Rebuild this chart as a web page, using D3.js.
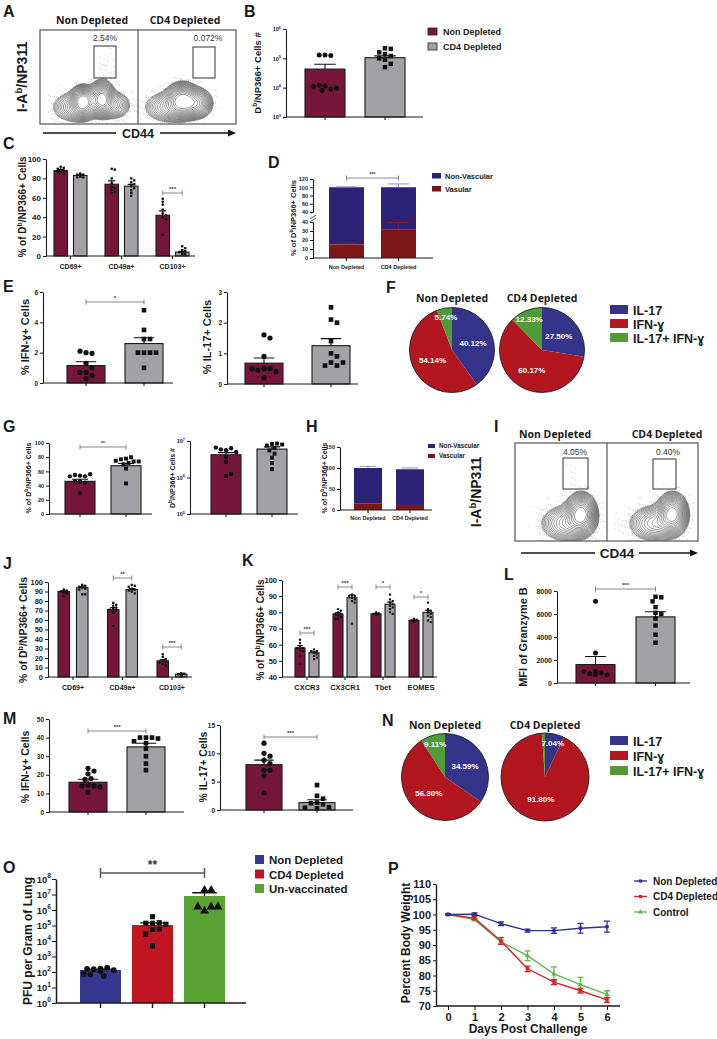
<!DOCTYPE html>
<html>
<head>
<meta charset="utf-8">
<script src="https://cdn.jsdelivr.net/npm/d3@7"></script>
<style>body{margin:0;background:#fff}</style>
</head>
<body>
<div id="fig"></div>
<script>
// ---------------- data ----------------
const conditions = ["Non Depleted", "CD4 Depleted"];

// B
const bTicks = [1e3, 1e4, 1e5, 1e6];
const bMean = [4.3e4, 1.05e5];
const bSem = [2.0e4, 1.6e4];
const bPoints = [[1.3e5, 1.25e5, 1.3e5, 1.15e4, 9e3, 8e3, 1.2e4, 9.5e3, 1.1e4],
                 [2.2e5, 2.1e5, 1.6e5, 1.4e5, 1.2e5, 1.0e5, 9e4, 6.5e4, 5e4]];

// C
const cMarkers = ["CD69+", "CD49a+", "CD103+"];
const cMean = [[88, 74, 42], [83, 72, 4]];
const cSem = [[1.2, 3.5, 4.5], [0.8, 1.8, 0.8]];
const cPoints = [
  [[92, 91, 90, 89, 88, 88, 87, 86, 85], [90, 89, 80, 75, 71, 70, 68, 66, 65], [59, 56, 53, 48, 44, 42, 40, 38, 22]],
  [[85, 84, 84, 83, 83, 82, 82, 81, 81], [80, 78, 76, 74, 72, 70, 68, 65, 62], [10, 8, 6, 5, 4, 4, 3, 3, 2, 2]]
];

// D
const dVascular = [15, 32], dVascularSem = [1.5, 7.5];
const dTotal = [100, 100], dTotalSem = [1, 8];
const dTicksLow = [0, 10, 20, 30, 40], dTicksHigh = [40, 60, 80, 100, 120];
const vascKeys = ["Non-Vascular", "Vasular"];

// E
const eIfngMean = [1.15, 2.6], eIfngSem = [0.25, 0.38];
const eIfngPoints = [[2.0, 1.95, 2.1, 1.3, 1.0, 0.7, 0.7, 0.5, 0.3], [4.8, 3.5, 2.9, 2.9, 2.0, 2.0, 2.0, 2.0, 1.0]];
const eIl17Mean = [0.68, 1.25], eIl17Sem = [0.17, 0.23];
const eIl17Points = [[1.6, 1.5, 0.9, 0.5, 0.5, 0.45, 0.4, 0.5, 0.5, 0.2], [2.5, 2.1, 2.0, 1.4, 1.0, 0.9, 0.7, 0.6, 0.6, 0.7]];

// F and N
const cytokines = ["IL-17", "IFN-\u0263", "IL-17+ IFN-\u0263"];
const fNon = [40.12, 54.14, 5.74], fCd4 = [27.50, 60.17, 12.33];
const nNon = [34.59, 56.30, 9.11], nCd4 = [7.04, 91.80, 1.16];

// G
const gPctMean = [46, 68], gPctSem = [3, 3.2];
const gPctPoints = [[54, 53, 55, 56, 53, 46, 44, 46, 30], [78, 80, 77, 72, 74, 75, 70, 64, 43, 74]];
const gNumTicks = [1e5, 1e6, 1e7];
const gNumMean = [4.2e6, 6.0e6], gNumSem = [0.6e6, 0.9e6];
const gNumPoints = [[5.6e6, 6.3e6, 5.9e6, 5.0e6, 3.7e6, 2.7e6, 1.1e6, 1.25e6, 6.6e6],
                    [8.3e6, 8.5e6, 7.5e6, 6.5e6, 5.5e6, 4.5e6, 3.5e6, 2.5e6, 1.7e6, 8.0e6]];

// H
const hVascular = [16, 12], hTotal = [100, 97], hTotalSem = [4, 3];
const hKeys = ["Non-Vascular", "Vascular"];

// J
const jMarkers = ["CD69+", "CD49a+", "CD103+"];
const jMean = [[90, 71, 17], [94, 92, 3]];
const jSem = [[0.8, 2.2, 1.3], [1.0, 1.0, 0.4]];
const jPoints = [
  [[92, 91, 90, 90, 89, 89, 88, 85], [78, 76, 75, 73, 72, 71, 70, 68, 54], [24, 21, 19, 17, 16, 15, 14, 12]],
  [[97, 96, 95, 95, 94, 93, 92, 87, 87], [97, 96, 95, 93, 92, 91, 90, 88], [4, 3.5, 3, 3, 2.5, 2, 1.5, 1]]
];

// K
const kMarkers = ["CXCR3", "CX3CR1", "Tbet", "EOMES"];
const kMean = [[58, 79, 79, 75], [55, 89, 85, 80]];
const kSem = [[1.5, 0.8, 0.3, 0.2], [0.6, 1.8, 1.3, 1.2]];
const kPoints = [
  [[63, 61, 59, 58, 58, 57, 56, 53, 48], [82, 81, 80, 79, 79, 78, 77, 76, 76], [80, 79.5, 79, 79, 78.8, 78.5], [76, 75.5, 75, 75, 74.8, 74.5]],
  [[57, 56, 56, 55, 55, 54, 53, 52, 51], [91, 90, 90, 89, 89, 88, 87, 86, 73], [91, 88, 87, 86, 85, 84, 83, 82, 80, 79], [86, 82, 81, 80, 79, 78, 77, 75, 74]]
];

// L
const lMean = [1600, 5750], lSem = [700, 450];
const lPoints = [[7100, 2600, 1050, 900, 800, 700, 1000, 750, 900], [7500, 7450, 7100, 6600, 6100, 6000, 5600, 5000, 4200, 3500]];

// M
const mIfngMean = [16, 35], mIfngSem = [1.6, 2];
const mIfngPoints = [[23.5, 22, 20.5, 18, 17.5, 14.5, 14, 14, 13.5, 10.5], [40, 40, 40, 39.5, 38, 37, 34, 30, 26, 22.5]];
const mIl17Mean = [8, 1.3], mIl17Sem = [0.8, 0.5];
const mIl17Points = [[11.8, 10, 9.5, 8.8, 8.2, 7, 7, 6, 3], [4.4, 2.5, 2.0, 1.3, 1.2, 1.0, 0.5, 0.4, 0.3]];

// O
const oGroups = ["Non Depleted", "CD4 Depleted", "Un-vaccinated"];
const oTicks = [1, 10, 100, 1e3, 1e4, 1e5, 1e6, 1e7, 1e8];
const oMean = [135, 1.07e5, 8e6];
const oSem = [15, 4e4, 5e6];
const oPoints = [[120, 55, 190, 150, 130, 70, 160, 75, 165],
                 [3.7e5, 1.4e5, 1.5e5, 5.6e4, 1.4e5, 6e4, 2.8e4, 4.8e3, 1.2e5],
                 [1.9e7, 1.9e7, 8.7e5, 1.6e6, 1.6e6, 1.6e6]];

// P
const days = [0, 1, 2, 3, 4, 5, 6];
const pSeries = ["Non Depleted", "CD4 Depleted", "Control"];
const pNon = [100, 100.1, 97, 94.7, 94.7, 95.5, 96], pNonSem = [0.2, 0.4, 0.6, 0.5, 0.9, 1.6, 1.8];
const pCd4 = [100, 98.8, 91.3, 82.2, 77.8, 75, 72], pCd4Sem = [0.2, 0.5, 1.1, 0.9, 0.8, 0.8, 0.8];
const pCtrl = [100, 98.3, 91, 86.5, 80.5, 77, 73.8], pCtrlSem = [0.2, 0.4, 0.6, 1.6, 2.3, 2.4, 1.2];

// flow density blobs: [CD44, NP311, spreadX, spreadY, weight]
const flowANon = [[44, 24, 6, 8, 1.0], [63, 27, 6, 9, 1.0], [36, 18, 13, 9, 0.3], [76, 20, 9, 8, 0.3], [70, 60, 6, 11, 0.03]];
const flowACd4 = [[45, 25, 8, 9, 1.0], [60, 22, 8, 8, 0.6], [30, 18, 13, 9, 0.3]];
const flowINon = [[72, 28, 8, 10, 1.0], [56, 18, 15, 10, 0.35], [62, 68, 5, 7, 0.035]];
const flowICd4 = [[72, 28, 8, 10, 1.0], [52, 18, 15, 10, 0.35]];

// ---------------- helpers ----------------
const FONT = "'Liberation Sans', Arial, sans-serif";
const FLOWFONT = "'Open Sans', 'Liberation Sans', sans-serif";
const MAROON = "#77163b", GREY = "#a2a1a6", NAVY = "#2c2378", DRED = "#7c1718";
const PIE = ["#35348b", "#b2161f", "#4f9b37"];
const OCOL = ["#363791", "#bf1621", "#5aa234"];
const PCOL = ["#2f3192", "#d5232a", "#5db648"];
const INK = "#1a1a1a";

const svg = d3.select("#fig").append("svg").attr("width", 717).attr("height", 1039)
  .attr("font-family", FONT);

function write(x, y, parts, o = {}) {
  const size = o.size || 10;
  const t = svg.append("text").attr("x", x).attr("y", y)
    .attr("font-size", size).attr("font-weight", o.weight || "bold")
    .attr("text-anchor", o.anchor || "middle").attr("fill", o.fill || INK)
    .attr("font-family", o.family || FONT);
  if (o.rotate) t.attr("transform", `rotate(-90,${x},${y})`);
  let shift = 0;
  [].concat(parts).forEach(p => {
    if (typeof p === "string") {
      const s = t.append("tspan").text(p);
      if (shift) { s.attr("dy", shift); shift = 0; }
    } else {
      t.append("tspan").attr("dy", -size * 0.38).attr("font-size", size * 0.68).text(p.sup);
      shift = size * 0.38;
    }
  });
  return t;
}
const dbLabel = ["% of D", { sup: "b" }, "/NP366+ Cells"];

function band(domain, start, w, gap) {
  const n = domain.length;
  return d3.scaleBand().domain(domain).range([start, start + n * w + (n - 1) * gap])
    .paddingInner(gap / (w + gap)).paddingOuter(0);
}

function axisY(scale, x, ticks, size, fmt) {
  const g = svg.append("g").attr("transform", `translate(${x},0)`)
    .call(d3.axisLeft(scale).tickValues(ticks).tickSize(3).tickSizeOuter(0).tickPadding(2)
      .tickFormat(fmt || d3.format("d")));
  g.attr("font-family", FONT).attr("font-size", size).attr("font-weight", "bold");
  g.selectAll("path,line").attr("stroke", INK);
  g.select(".domain").attr("stroke-width", 1.1);
  g.selectAll("text").attr("fill", INK);
  return g;
}
function supTicks(g, size) {
  g.selectAll(".tick text").each(function (d) {
    const t = d3.select(this).text("10");
    t.append("tspan").attr("dy", -size * 0.45).attr("font-size", size * 0.7).text(Math.round(Math.log10(d)));
  });
}
function axisX(scale, base, x0, x1, o = {}) {
  svg.append("line").attr("x1", x0).attr("x2", x1).attr("y1", base).attr("y2", base)
    .attr("stroke", INK).attr("stroke-width", o.sw || 1.1);
  const g = svg.append("g").attr("transform", `translate(0,${base})`)
    .call(d3.axisBottom(scale).tickSize(o.tick || 3).tickSizeOuter(0).tickPadding(o.pad || 3)
      .tickFormat(o.labels ? d => d : () => ""));
  g.select(".domain").remove();
  g.attr("font-family", FONT).attr("font-size", o.size || 7).attr("font-weight", o.weight || "bold");
  g.selectAll("line").attr("stroke", INK).attr("stroke-width", o.sw || 1.1);
  g.selectAll("text").attr("fill", INK);
  return g;
}

function swarm(ys, r, maxOff) {
  const placed = [];
  return ys.map(y => {
    let dx = 0;
    for (let k = 0; k < 40; k++) {
      const c = (k % 2 ? 1 : -1) * Math.ceil(k / 2) * r * 1.1;
      if (Math.abs(c) > maxOff) continue;
      if (placed.every(p => Math.hypot(p.x - c, p.y - y) >= 2 * r)) { dx = c; break; }
    }
    placed.push({ x: dx, y });
    return dx;
  });
}

function pairItems(xb, means, sems, pts, fills, shapes, keys) {
  return (keys || conditions).map((c, i) => ({
    x: xb(c), w: xb.bandwidth(), mean: means[i], sem: sems[i], pts: pts[i], fill: fills[i], shape: shapes[i]
  }));
}
function groupItems(cats, start, barW, gap, groupGap, means, sems, pts) {
  const outer = band(cats, start, 2 * barW + gap, groupGap);
  const inner = band(conditions, 0, barW, gap);
  const items = [];
  cats.forEach((c, j) => conditions.forEach((s, i) => items.push({
    x: outer(c) + inner(s), w: barW, mean: means[i][j], sem: sems[i][j], pts: pts[i][j],
    fill: i ? GREY : MAROON, shape: i ? d3.symbolSquare : d3.symbolCircle
  })));
  return { outer, items };
}

function drawBars(y, base, items, o = {}) {
  const r = o.r || 2, sw = o.sw || 1.1;
  items.forEach(it => {
    const top = y(it.mean);
    svg.append("rect").attr("x", it.x).attr("y", top).attr("width", it.w).attr("height", base - top)
      .attr("fill", it.fill).attr("stroke", o.outline === false ? "none" : INK).attr("stroke-width", sw);
    const ys = it.pts.map(v => y(v));
    const offs = swarm(ys, r * 1.05, it.w / 2 - r);
    const area = it.shape === d3.symbolCircle ? Math.PI * r * r : it.shape === d3.symbolSquare ? 3.2 * r * r : 4.2 * r * r;
    const sym = d3.symbol().type(it.shape).size(area);
    ys.forEach((yy, k) => svg.append("path").attr("d", sym())
      .attr("transform", `translate(${it.x + it.w / 2 + offs[k]},${yy})`).attr("fill", "#111"));
    const cx = it.x + it.w / 2, et = y(it.mean + it.sem), cap = it.w * (o.cap || 0.27);
    svg.append("path").attr("d", `M${cx},${top}V${et}M${cx - cap},${et}H${cx + cap}`)
      .attr("stroke", "#111").attr("stroke-width", sw).attr("fill", "none");
    it.cx = cx;
  });
  return items;
}

function bracket(x1, x2, yy, label, o = {}) {
  const t = o.tick || 2.5;
  svg.append("path").attr("d", `M${x1},${yy - t}V${yy + t}M${x1},${yy}H${x2}M${x2},${yy - t}V${yy + t}`)
    .attr("stroke", o.color || "#6a6a6a").attr("stroke-width", o.sw || 0.8).attr("fill", "none");
  write((x1 + x2) / 2, yy - (o.gap || 2), label, { size: o.size || 6, weight: "bold", fill: "#333" });
}

function panelLetter(x, y, s) { write(x, y, s, { size: 16, anchor: "start" }); }

function flowPlot(x0, y0, w, h, clusters) {
  const dens = (u, v) => clusters.reduce((s, c) =>
    s + c[4] * Math.exp(-((u - c[0]) ** 2 / (2 * c[2] ** 2) + (v - c[1]) ** 2 / (2 * c[3] ** 2))), 0);
  const nx = 90, ny = Math.round(90 * h / w);
  const grid = new Float64Array(nx * ny);
  for (let j = 0; j < ny; j++) for (let i = 0; i < nx; i++)
    grid[j * nx + i] = dens((i + 0.5) / nx * 100, 100 - (j + 0.5) / ny * 100);
  const th = d3.range(18).map(k => 0.07 * Math.pow(1.16, k));
  const contours = d3.contours().size([nx, ny]).thresholds(th)(grid);
  const proj = d3.geoTransform({ point(px, py) { this.stream.point(x0 + px / nx * w, y0 + py / ny * h); } });
  const path = d3.geoPath(proj);
  const id = "clip" + Math.round(x0) + "_" + Math.round(y0);
  svg.append("clipPath").attr("id", id).append("rect").attr("x", x0).attr("y", y0).attr("width", w).attr("height", h);
  const g = svg.append("g").attr("clip-path", `url(#${id})`);
  // light speckle of single events (deterministic low-discrepancy placement)
  for (let k = 1; k < 3000; k++) {
    const u = (k * 0.7548776662) % 1 * 100, v = (k * 0.5698402910) % 1 * 100;
    const d = dens(u, v);
    if (d > 0.003 && d < 0.09 && (k * 0.6180339887) % 1 < Math.min(1, d * 9)) {
      g.append("circle").attr("cx", x0 + u / 100 * w).attr("cy", y0 + (100 - v) / 100 * h)
        .attr("r", 0.42).attr("fill", "#8c8c8c");
    }
  }
  g.selectAll("path").data(contours).join("path")
    .attr("d", path).attr("fill", "none")
    .attr("stroke", "#444").attr("stroke-width", 0.55);
}
function gate(x, y, w, h, pct, tx, ty) {
  svg.append("rect").attr("x", x).attr("y", y).attr("width", w).attr("height", h)
    .attr("fill", "none").attr("stroke", "#333").attr("stroke-width", 1);
  write(tx, ty, pct, { size: 8.5, weight: "normal", fill: "#333" });
}
function cd44Arrow(x0, x1, y, tx, size) {
  svg.append("line").attr("x1", x0).attr("x2", tx - 22).attr("y1", y).attr("y2", y).attr("stroke", "#111").attr("stroke-width", 1.6);
  svg.append("line").attr("x1", tx + 22).attr("x2", x1 - 5).attr("y1", y).attr("y2", y).attr("stroke", "#111").attr("stroke-width", 1.6);
  svg.append("path").attr("d", `M${x1},${y}L${x1 - 8},${y - 3.5}L${x1 - 8},${y + 3.5}Z`).attr("fill", "#111");
  write(tx, y + size * 0.36, "CD44", { size });
}
function flowFrame(x, y, w, h, mid) {
  svg.append("rect").attr("x", x).attr("y", y).attr("width", w).attr("height", h)
    .attr("fill", "none").attr("stroke", "#555").attr("stroke-width", 1.2);
  svg.append("line").attr("x1", mid).attr("x2", mid).attr("y1", y).attr("y2", y + h).attr("stroke", "#555").attr("stroke-width", 1.2);
}

function pieChart(cx, cy, r, values, title, titleY) {
  const arcs = d3.pie().sort(null).value(d => d)(values);
  const g = svg.append("g").attr("transform", `translate(${cx},${cy})`);
  g.selectAll("path").data(arcs).join("path").attr("d", d3.arc().innerRadius(0).outerRadius(r))
    .attr("fill", (d, i) => PIE[i]);
  g.append("circle").attr("r", r).attr("fill", "none").attr("stroke", "#222").attr("stroke-width", 0.9);
  arcs.forEach(d => {
    if (d.data < 2) return;
    const f = d.data < 15 ? 0.8 : 0.52;
    const [lx, ly] = d3.arc().innerRadius(r * f).outerRadius(r * f).centroid(d);
    g.append("text").attr("x", lx).attr("y", ly + 3).attr("text-anchor", "middle")
      .attr("font-size", 8).attr("font-weight", "bold").attr("fill", "#fff").attr("font-family", FONT)
      .text(d3.format(".2f")(d.data) + "%");
  });
  write(cx, titleY, title, { size: 10.5, family: FLOWFONT });
}
function pieLegend(x, y0, step) {
  cytokines.forEach((c, i) => {
    svg.append("rect").attr("x", x).attr("y", y0 + i * step).attr("width", 18).attr("height", 9).attr("fill", PIE[i]);
    write(x + 23, y0 + i * step + 9.5, c, { size: 12.5, anchor: "start" });
  });
}

function stacked(yf, base, xb, vasc, vascSem, total, totalSem, cols, errCols) {
  conditions.forEach((c, i) => {
    const x = xb(c), w = xb.bandwidth(), cx = x + w / 2;
    svg.append("rect").attr("x", x).attr("y", yf(total[i])).attr("width", w).attr("height", yf(vasc[i]) - yf(total[i])).attr("fill", cols[0]);
    svg.append("rect").attr("x", x).attr("y", yf(vasc[i])).attr("width", w).attr("height", base - yf(vasc[i])).attr("fill", cols[1]);
    const cap = w * 0.3;
    const e1 = yf(total[i] + totalSem[i]);
    svg.append("path").attr("d", `M${cx},${yf(total[i])}V${e1}M${cx - cap},${e1}H${cx + cap}`).attr("stroke", errCols[0]).attr("stroke-width", 1).attr("fill", "none");
    if (vascSem) {
      const e2 = yf(vasc[i] + vascSem[i]);
      svg.append("path").attr("d", `M${cx},${yf(vasc[i])}V${e2}M${cx - cap},${e2}H${cx + cap}`).attr("stroke", errCols[1]).attr("stroke-width", 1).attr("fill", "none");
    }
  });
}
function vascLegend(x, y0, step, keys, size, box) {
  keys.forEach((k, i) => {
    svg.append("rect").attr("x", x).attr("y", y0 + i * step).attr("width", box[0]).attr("height", box[1]).attr("fill", i ? DRED : NAVY);
    write(x + box[0] + 4, y0 + i * step + box[1], k, { size, anchor: "start" });
  });
}

// ---------------- A ----------------
panelLetter(3, 17, "A");
flowPlot(40, 30, 98, 94, flowANon);
flowPlot(138, 30, 98, 94, flowACd4);
flowFrame(40, 30, 196, 94, 138);
write(92, 24, "Non Depleted", { size: 10.5, family: FLOWFONT });
write(185, 24, "CD4 Depleted", { size: 10.5, family: FLOWFONT });
gate(94, 46, 22, 32, "2.54%", 105, 41);
gate(193, 47, 22, 31, "0.072%", 208, 41);
write(27, 77, ["I-A", { sup: "b" }, "/NP311"], { size: 14, rotate: true });
cd44Arrow(43, 236, 133, 138, 12.5);

// ---------------- B ----------------
panelLetter(244, 17, "B");
const yB = d3.scaleLog().domain([1e3, 1e6]).range([117, 29]);
supTicks(axisY(yB, 286, bTicks, 5.5), 5.5);
const xB = band(conditions, 305, 40, 20);
drawBars(yB, 117, pairItems(xB, bMean, bSem, bPoints, [MAROON, GREY], [d3.symbolCircle, d3.symbolSquare]), { r: 2.5 });
axisX(xB, 117, 286, 423);
write(261, 73, ["D", { sup: "b" }, "/NP366+ Cells #"], { size: 9.5, rotate: true });
conditions.forEach((c, i) => {
  svg.append("rect").attr("x", 428).attr("y", 28 + i * 15).attr("width", 9).attr("height", 7)
    .attr("fill", i ? GREY : MAROON).attr("stroke", "#222").attr("stroke-width", 0.8);
  write(443, 35 + i * 15, c, { size: 9, anchor: "start" });
});

// ---------------- C ----------------
panelLetter(3, 149, "C");
const yC = d3.scaleLinear().domain([0, 100]).range([256, 159]);
axisY(yC, 46, [0, 20, 40, 60, 80, 100], 8);
const cSet = groupItems(cMarkers, 54, 13.5, 6, 18, cMean, cSem, cPoints);
drawBars(yC, 256, cSet.items, { r: 1.3 });
axisX(cSet.outer, 256, 46, 195, { labels: true, size: 7, pad: 5 });
bracket(cSet.items[4].cx, cSet.items[5].cx, 193, "***");
write(26, 207, dbLabel, { size: 10, rotate: true });

// ---------------- D ----------------
panelLetter(268, 168, "D");
const yDlow = d3.scaleLinear().domain([0, 40]).range([258, 222]);
const yDhigh = d3.scaleLinear().domain([40, 120]).range([212, 179]);
const yD = v => v <= 40 ? yDlow(v) : yDhigh(v);
axisY(yDlow, 313, dTicksLow, 5.5);
axisY(yDhigh, 313, dTicksHigh, 5.5);
svg.append("path").attr("d", "M310,219L316,215M310,222L316,218").attr("stroke", INK).attr("stroke-width", 0.8);
const xD = band(conditions, 329, 35, 17);
stacked(yD, 258, xD, dVascular, dVascularSem, dTotal, dTotalSem, [NAVY, DRED], ["#8e8ec6", "#8a1c1c"]);
axisX(xD, 258, 313, 433, { labels: true, size: 5.5, pad: 4 });
bracket(xD("Non Depleted") + 17.5, xD("CD4 Depleted") + 17.5, 178, "***", { size: 5 });
write(296, 218, dbLabel, { size: 7.5, rotate: true });
vascLegend(432, 173, 13, vascKeys, 7.5, [9, 5.5]);

// ---------------- E ----------------
panelLetter(3, 292, "E");
const yE1 = d3.scaleLinear().domain([0, 6]).range([383, 292]);
axisY(yE1, 43, [0, 2, 4, 6], 6.5);
const xE1 = band(conditions, 67, 38, 20);
const e1 = drawBars(yE1, 383, pairItems(xE1, eIfngMean, eIfngSem, eIfngPoints, [MAROON, GREY], [d3.symbolCircle, d3.symbolSquare]), { r: 2.6 });
axisX(xE1, 383, 43, 173);
bracket(e1[0].cx, e1[1].cx, 302, "*");
write(29, 337, "% IFN-\u0263+ Cells", { size: 11, rotate: true });

const yE2 = d3.scaleLinear().domain([0, 3]).range([384, 292]);
axisY(yE2, 227, [0, 1, 2, 3], 6.5);
const xE2 = band(conditions, 245, 38, 29);
drawBars(yE2, 384, pairItems(xE2, eIl17Mean, eIl17Sem, eIl17Points, [MAROON, GREY], [d3.symbolCircle, d3.symbolSquare]), { r: 2.6 });
axisX(xE2, 384, 227, 358);
write(211, 337, "% IL-17+ Cells", { size: 11, rotate: true });

// ---------------- F ----------------
panelLetter(386, 293, "F");
pieChart(452, 350, 42.5, fNon, "Non Depleted", 302);
pieChart(542, 350, 42.5, fCd4, "CD4 Depleted", 302);
pieLegend(610, 305, 14);

// ---------------- G ----------------
panelLetter(3, 432, "G");
const yG1 = d3.scaleLinear().domain([0, 100]).range([514, 443]);
axisY(yG1, 49, [0, 20, 40, 60, 80, 100], 5.5);
const xG1 = band(conditions, 65, 30, 16);
const g1 = drawBars(yG1, 514, pairItems(xG1, gPctMean, gPctSem, gPctPoints, [MAROON, GREY], [d3.symbolCircle, d3.symbolSquare]), { r: 2.2 });
axisX(xG1, 514, 49, 152);
bracket(g1[0].cx, g1[1].cx, 447, "**", { size: 5 });
write(31, 478, dbLabel, { size: 7, rotate: true });

const yG2 = d3.scaleLog().domain([1e5, 1e7]).range([514, 441]);
supTicks(axisY(yG2, 190, gNumTicks, 5.5), 5.5);
const xG2 = band(conditions, 211, 30, 16);
drawBars(yG2, 514, pairItems(xG2, gNumMean, gNumSem, gNumPoints, [MAROON, GREY], [d3.symbolCircle, d3.symbolSquare]), { r: 2.2 });
axisX(xG2, 514, 190, 298);
write(175, 478, ["D", { sup: "b" }, "/NP366+ Cells #"], { size: 7, rotate: true });

// ---------------- H ----------------
panelLetter(306, 432, "H");
const yH = d3.scaleLinear().domain([0, 150]).range([510, 447]);
axisY(yH, 340, [0, 50, 100, 150], 5.5);
const xH = band(conditions, 354, 28, 14);
stacked(yH, 510, xH, hVascular, null, hTotal, hTotalSem, [NAVY, DRED], ["#8e8ec6", "#8a1c1c"]);
axisX(xH, 510, 340, 432, { labels: true, size: 5.5, pad: 3 });
write(327, 478, dbLabel, { size: 7, rotate: true });
vascLegend(428, 444, 10, hKeys, 6.3, [7, 4]);

// ---------------- I ----------------
panelLetter(494, 432, "I");
flowPlot(515, 443, 92, 98, flowINon);
flowPlot(607, 443, 91, 98, flowICd4);
flowFrame(515, 443, 183, 98, 607);
write(555, 438, "Non Depleted", { size: 10.5, family: FLOWFONT });
write(667, 438, "CD4 Depleted", { size: 10.5, family: FLOWFONT });
gate(563, 458, 25, 31, "4.05%", 575, 455);
gate(653, 459, 23, 30, "0.40%", 668, 455);
write(481, 492, ["I-A", { sup: "b" }, "/NP311"], { size: 14, rotate: true });
cd44Arrow(521, 698, 553, 617, 13.5);

// ---------------- J ----------------
panelLetter(3, 569, "J");
const yJ = d3.scaleLinear().domain([0, 100]).range([677, 582]);
axisY(yJ, 48, d3.range(0, 101, 10), 7.5);
const jSet = groupItems(jMarkers, 58, 11.5, 7, 19.5, jMean, jSem, jPoints);
drawBars(yJ, 677, jSet.items, { r: 1.3 });
axisX(jSet.outer, 677, 48, 192, { labels: true, size: 7, pad: 5 });
bracket(jSet.items[2].cx, jSet.items[3].cx, 578, "**");
bracket(jSet.items[4].cx, jSet.items[5].cx, 647, "***");
write(27, 630, dbLabel, { size: 10.5, rotate: true });

// ---------------- K ----------------
panelLetter(242, 566, "K");
const yK = d3.scaleLinear().domain([40, 100]).range([677, 580]);
axisY(yK, 282, d3.range(40, 101, 10), 7.5);
const kSet = groupItems(kMarkers, 295, 10, 4, 14, kMean, kSem, kPoints);
drawBars(yK, 677, kSet.items, { r: 1.2 });
axisX(kSet.outer, 677, 282, 437, { labels: true, size: 7.5, pad: 5 });
bracket(kSet.items[0].cx, kSet.items[1].cx, 633, "***");
bracket(kSet.items[2].cx, kSet.items[3].cx, 587, "***");
bracket(kSet.items[4].cx, kSet.items[5].cx, 587, "*");
bracket(kSet.items[6].cx, kSet.items[7].cx, 597, "*");
write(264, 630, dbLabel, { size: 10, rotate: true });

// ---------------- L ----------------
panelLetter(504, 580, "L");
const yL = d3.scaleLinear().domain([0, 8000]).range([683, 591]);
axisY(yL, 557, d3.range(0, 8001, 2000), 7);
const xL = band(conditions, 576, 39, 21);
const lI = drawBars(yL, 683, pairItems(xL, lMean, lSem, lPoints, [MAROON, GREY], [d3.symbolCircle, d3.symbolSquare]), { r: 2.5 });
axisX(xL, 683, 557, 690);
bracket(lI[0].cx, lI[1].cx, 589, "***");
write(527, 637, "MFI of Granzyme B", { size: 11, rotate: true });

// ---------------- M ----------------
panelLetter(3, 724, "M");
const yM1 = d3.scaleLinear().domain([0, 50]).range([812, 719]);
axisY(yM1, 49, d3.range(0, 51, 10), 6.5);
const xM1 = band(conditions, 69, 38, 20);
const m1 = drawBars(yM1, 812, pairItems(xM1, mIfngMean, mIfngSem, mIfngPoints, [MAROON, GREY], [d3.symbolCircle, d3.symbolSquare]), { r: 2.6 });
axisX(xM1, 812, 49, 184);
bracket(m1[0].cx, m1[1].cx, 731, "***");
write(29, 767, "% IFN-\u0263+ Cells", { size: 10.5, rotate: true });

const yM2 = d3.scaleLinear().domain([0, 15]).range([810, 725]);
axisY(yM2, 220, [0, 5, 10, 15], 6.5);
const xM2 = band(conditions, 246, 36, 17);
const m2 = drawBars(yM2, 810, pairItems(xM2, mIl17Mean, mIl17Sem, mIl17Points, [MAROON, GREY], [d3.symbolCircle, d3.symbolSquare]), { r: 2.6 });
axisX(xM2, 810, 220, 353);
bracket(m2[0].cx, m2[1].cx, 737, "***");
write(207, 767, "% IL-17+ Cells", { size: 10.5, rotate: true });

// ---------------- N ----------------
panelLetter(382, 726, "N");
pieChart(445, 777, 43.5, nNon, "Non Depleted", 729);
pieChart(545, 777, 44, nCd4, "CD4 Depleted", 729);
pieLegend(610, 736, 15);

// ---------------- O ----------------
panelLetter(3, 873, "O");
const yO = d3.scaleLog().domain([1, 1e8]).range([1003, 879]);
const gO = axisY(yO, 56, oTicks, 9.5);
supTicks(gO, 9.5);
gO.selectAll(".tick line").attr("x2", -4);
gO.select(".domain").attr("stroke-width", 1.5);
const xO = band(oGroups, 80, 41, 11);
const oI = drawBars(yO, 1003, pairItems(xO, oMean, oSem, oPoints, OCOL, [d3.symbolCircle, d3.symbolSquare, d3.symbolTriangle], oGroups), { r: 2.9, outline: false, sw: 1.4, cap: 0.3 });
axisX(xO, 1003, 56, 246, { sw: 1.5, tick: 5 });
bracket(oI[0].cx, oI[2].cx, 873, "**", { size: 12, sw: 1.5, tick: 5, color: "#555", gap: 4 });
write(32, 941, "PFU per Gram of Lung", { size: 12, rotate: true });
oGroups.forEach((gname, i) => {
  svg.append("rect").attr("x", 255).attr("y", 855 + i * 14.5).attr("width", 9).attr("height", 9).attr("fill", OCOL[i]);
  write(269, 864 + i * 14.5, gname, { size: 11.5, anchor: "start" });
});

// ---------------- P ----------------
panelLetter(388, 874, "P");
const px = d3.scaleLinear().domain([0, 6]).range([448, 607]);
const py = d3.scaleLinear().domain([70, 110]).range([1006, 884]);
const gP = axisY(py, 436, d3.range(70, 111, 5), 11);
gP.select(".domain").attr("stroke-width", 1.4);
svg.append("line").attr("x1", 436).attr("x2", 620).attr("y1", 1006).attr("y2", 1006).attr("stroke", INK).attr("stroke-width", 1.4);
const gPx = svg.append("g").attr("transform", "translate(0,1006)")
  .call(d3.axisBottom(px).tickValues(days).tickFormat(d3.format("d")).tickSize(4).tickSizeOuter(0).tickPadding(3));
gPx.select(".domain").remove();
gPx.attr("font-family", FONT).attr("font-size", 11).attr("font-weight", "bold");
gPx.selectAll("line").attr("stroke", INK);
gPx.selectAll("text").attr("fill", INK);
write(410, 943, "Percent Body Weight", { size: 12, rotate: true });
write(528, 1033, "Days Post Challenge", { size: 12 });
const pVals = [pNon, pCd4, pCtrl], pErrs = [pNonSem, pCd4Sem, pCtrlSem];
const pSym = [d3.symbolSquare, d3.symbolSquare, d3.symbolTriangle];
[2, 1, 0].forEach(s => {
  svg.append("path").datum(pVals[s]).attr("d", d3.line().x((d, i) => px(days[i])).y(d => py(d)))
    .attr("fill", "none").attr("stroke", PCOL[s]).attr("stroke-width", 1.4);
  pVals[s].forEach((v, i) => {
    const x = px(days[i]), lo = py(v - pErrs[s][i]), hi = py(v + pErrs[s][i]);
    svg.append("path").attr("d", `M${x},${lo}V${hi}M${x - 3},${lo}H${x + 3}M${x - 3},${hi}H${x + 3}`)
      .attr("stroke", PCOL[s]).attr("stroke-width", 1.3).attr("fill", "none");
    svg.append("path").attr("d", d3.symbol().type(pSym[s]).size(12)()).attr("transform", `translate(${x},${py(v)})`).attr("fill", PCOL[s]);
  });
});
pSeries.forEach((name, s) => {
  const yy = 881 + s * 15.5;
  svg.append("line").attr("x1", 634).attr("x2", 647).attr("y1", yy).attr("y2", yy).attr("stroke", PCOL[s]).attr("stroke-width", 1.4);
  svg.append("path").attr("d", d3.symbol().type(pSym[s]).size(10)()).attr("transform", `translate(640.5,${yy})`).attr("fill", PCOL[s]);
  write(653, yy + 3.5, name, { size: 10, anchor: "start" });
});
</script>
</body>
</html>
